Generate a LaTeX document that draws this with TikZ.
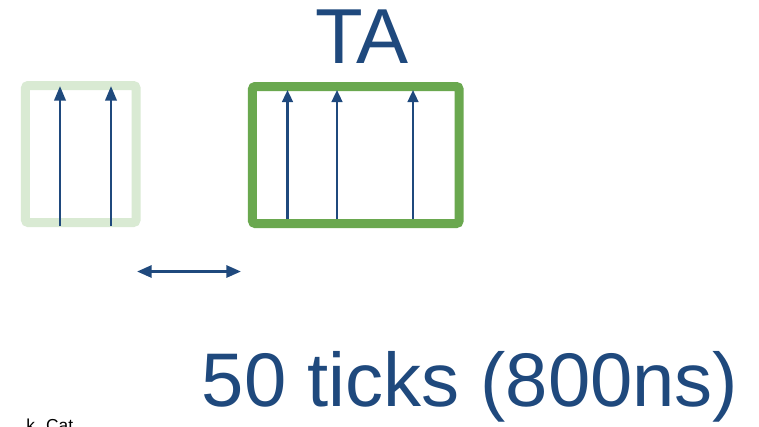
\documentclass[tikz,border=0pt]{standalone}
\usepackage{fontspec}
\setmainfont{Liberation Sans}
\usetikzlibrary{arrows.meta}
\definecolor{navy}{RGB}{31,73,125}
\definecolor{paleleaf}{RGB}{217,234,211}
\definecolor{leaf}{RGB}{106,168,79}
\begin{document}
\begin{tikzpicture}[x=0.75pt,y=-0.75pt,
  frame/.style={draw, line width=6.75pt, rounded corners=2pt, inner sep=0pt, outer sep=0pt},
  tickarrow/.style={navy, line width=2pt, -{Triangle[length=11pt,width=8.5pt]}},
  tickarrowsmall/.style={navy, line width=1.7pt, -{Triangle[length=9pt,width=8pt]}},
  spanarrow/.style={navy, line width=2.2pt, {Triangle[length=11pt,width=9pt]}-{Triangle[length=11pt,width=9pt]}},
  bigtext/.style={text=navy, inner sep=0pt}]
\useasboundingbox (0,0) rectangle (759,426);
\fill[white] (0,0) rectangle (759,426);

% previous (faded) window
\node[frame, draw=paleleaf, minimum width=82.9pt, minimum height=102.75pt] (prev) at (80.75,154) {};
% current window
\node[frame, draw=leaf, minimum width=154.9pt, minimum height=102.75pt] (cur) at (355.75,155) {};

% tick arrows in the previous window
\coordinate (p1b) at (60,226);   \coordinate (p1t) at (60,86);
\coordinate (p2b) at (111,226);  \coordinate (p2t) at (111,86);
\draw[tickarrow] (p1b) -- (p1t);
\draw[tickarrow] (p2b) -- (p2t);

% tick arrows in the current window
\coordinate (c1b) at (287.5,219); \coordinate (c1t) at (287.5,90);
\coordinate (c2b) at (337,219);   \coordinate (c2t) at (337,90);
\coordinate (c3b) at (413,219);   \coordinate (c3t) at (413,90);
\draw[tickarrowsmall] (c1b) -- (c1t);
\draw[tickarrowsmall] (c2b) -- (c2t);
\draw[tickarrowsmall] (c3b) -- (c3t);

% gap between windows
\coordinate (gl) at (137,271.5);
\coordinate (gr) at (241,271.5);
\draw[spanarrow] (gl) -- (gr);

% labels
\node[bigtext, anchor=base, font=\fontsize{58.5pt}{60pt}\selectfont] (ta) at (362,63) {TA};
\node[bigtext, anchor=base, font=\fontsize{57pt}{60pt}\selectfont] (ticks) at (470,406) {50 ticks (800ns)};

% caption running off the lower edge
\begin{scope}
\clip (0,0) rectangle (759,426);
\node[anchor=base west, inner sep=0pt, font=\fontsize{13pt}{16pt}\selectfont] (cap) at (26,431) {k. Cat};
\end{scope}
\end{tikzpicture}
\end{document}
